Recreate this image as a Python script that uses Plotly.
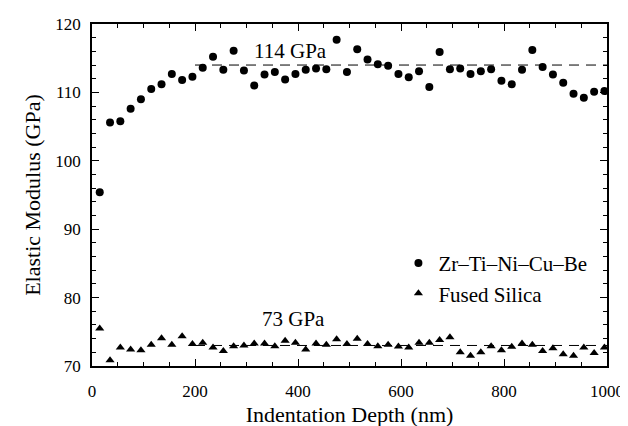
import plotly.graph_objects as go

depth_nm = [15, 35, 55, 75, 95, 115, 135, 155, 175, 195,
            215, 235, 255, 275, 295, 315, 335, 355, 375, 395,
            415, 435, 455, 475, 495, 515, 535, 555, 575, 595,
            615, 635, 655, 675, 695, 715, 735, 755, 775, 795,
            815, 835, 855, 875, 895, 915, 935, 955, 975, 995]

zr_modulus = [95.4, 105.6, 105.8, 107.6, 109.0, 110.5, 111.2, 112.7, 111.8, 112.3,
              113.6, 115.2, 113.3, 116.1, 113.2, 111.0, 112.6, 113.0, 111.9, 112.7,
              113.3, 113.5, 113.4, 117.7, 113.0, 116.3, 114.8, 114.1, 113.9, 112.7,
              112.2, 113.1, 110.8, 115.9, 113.4, 113.5, 112.7, 113.1, 113.4, 111.7,
              111.2, 113.3, 116.2, 113.7, 112.6, 111.4, 109.8, 109.2, 110.1, 110.2]

silica_modulus = [75.5, 70.85, 72.7, 72.4, 72.3, 73.1, 74.05, 73.1, 74.35, 73.2,
                  73.4, 72.7, 72.2, 72.9, 73.0, 73.3, 73.3, 72.9, 73.7, 73.4,
                  72.4, 73.3, 73.1, 73.9, 73.2, 74.0, 73.2, 72.9, 73.1, 72.85,
                  72.7, 73.4, 73.4, 73.8, 74.2, 72.0, 71.5, 72.0, 72.9, 72.3,
                  72.8, 73.3, 73.1, 72.2, 72.6, 71.7, 71.5, 72.7, 71.9, 72.7]

fit_x = [200, 1000]
zr_fit = [114, 114]
silica_fit = [73, 73]

font_family = "Liberation Serif, DejaVu Serif, serif"


def serif(size):
    return dict(family=font_family, size=size, color="black")


fig = go.Figure()
fig.add_trace(go.Scatter(x=fit_x, y=zr_fit, mode="lines",
                         line=dict(color="black", width=1, dash="10px,7px"),
                         showlegend=False, hoverinfo="skip"))
fig.add_trace(go.Scatter(x=fit_x, y=silica_fit, mode="lines",
                         line=dict(color="black", width=1, dash="10px,7px"),
                         showlegend=False, hoverinfo="skip"))
fig.add_trace(go.Scatter(x=depth_nm, y=zr_modulus, mode="markers", name="Zr\u2013Ti\u2013Ni\u2013Cu\u2013Be",
                         marker=dict(symbol="circle", size=8, color="black")))
fig.add_trace(go.Scatter(x=depth_nm, y=silica_modulus, mode="markers", name="Fused Silica",
                         marker=dict(symbol="triangle-up", size=8, color="black")))

fig.add_annotation(x=385, y=116, text="114 GPa", showarrow=False, font=serif(21))
fig.add_annotation(x=391, y=76.8, text="73 GPa", showarrow=False, font=serif(21))

axis_common = dict(showline=True, linecolor="black", linewidth=1.5, mirror="ticks",
                   ticks="inside", ticklen=7, tickcolor="black", tickwidth=1,
                   showgrid=False, zeroline=False, tickfont=serif(17))

fig.update_xaxes(range=[0, 1000], dtick=200, tick0=0, ticklabelstandoff=9,
                 minor=dict(dtick=50, ticks="inside", ticklen=4, tickcolor="black"),
                 title=dict(text="Indentation Depth (nm)", font=serif(22), standoff=6),
                 **axis_common)
fig.update_yaxes(range=[70, 120], dtick=10, tick0=70, ticklabelstandoff=6,
                 minor=dict(dtick=2, ticks="inside", ticklen=4, tickcolor="black"),
                 title=dict(text="Elastic Modulus (GPa)", font=serif(22), standoff=9),
                 **axis_common)

fig.update_layout(
    template="none",
    width=628, height=426,
    margin=dict(l=84, r=29, t=16, b=68),
    paper_bgcolor="white", plot_bgcolor="white",
    font=serif(17),
    legend=dict(x=0.595, y=0.36, xanchor="left", yanchor="top",
                bgcolor="rgba(0,0,0,0)", borderwidth=0,
                font=serif(21), tracegroupgap=0, itemwidth=30),
)

fig.write_html("out.html")
